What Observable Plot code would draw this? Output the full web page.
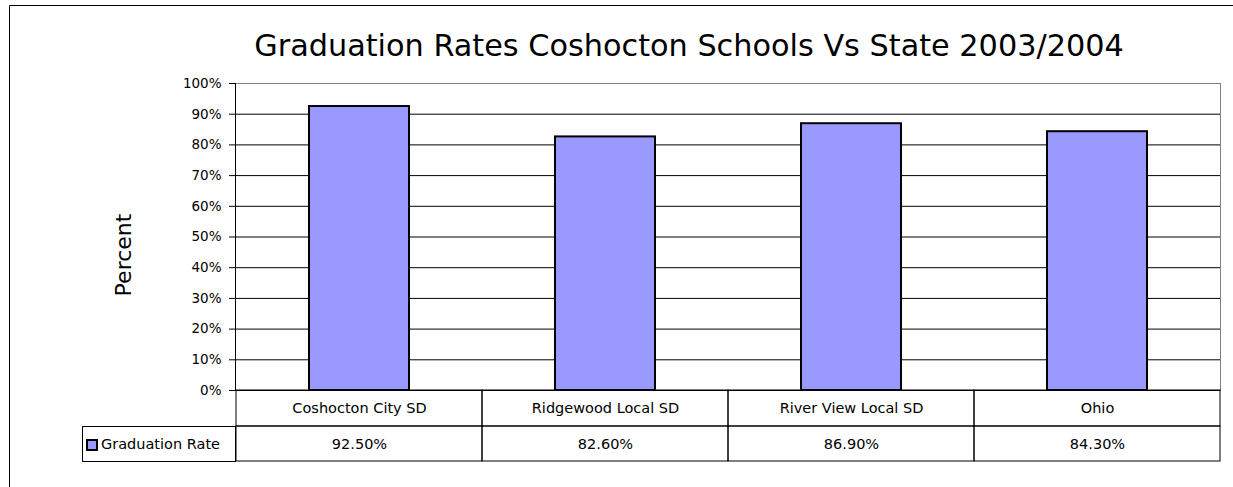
<!DOCTYPE html>
<html>
<head>
<meta charset="utf-8">
<script src="https://cdn.jsdelivr.net/npm/d3@7"></script>
<script src="https://cdn.jsdelivr.net/npm/@observablehq/plot@0.6"></script>
<style>
  html, body { margin: 0; padding: 0; background: #fff; }
  #chart svg { display: block; }
</style>
</head>
<body>
<div id="chart"></div>
<script>
const categories = ["Coshocton City SD", "Ridgewood Local SD", "River View Local SD", "Ohio"];
const rates = [0.925, 0.826, 0.869, 0.843];
const yTicks = [0, 0.1, 0.2, 0.3, 0.4, 0.5, 0.6, 0.7, 0.8, 0.9, 1.0];
const seriesName = "Graduation Rate";
const titleText = "Graduation Rates Coshocton Schools Vs State 2003/2004";
const yLabel = "Percent";

const rows = categories.map((name, i) => ({name, value: rates[i]}));
const fontFam = "'DejaVu Sans', Verdana, sans-serif";
const barFill = "#9999ff";
const tableFont = 14.5;

const W = 1233, H = 487;
const plot = Plot.plot({
  width: W,
  height: H,
  marginLeft: 235,
  marginRight: 13,
  marginTop: 83,
  marginBottom: 97,
  style: {fontFamily: fontFam, fontSize: "13px", color: "#000", background: "#fff"},
  x: {type: "band", domain: categories, paddingInner: 0, paddingOuter: 0, axis: null},
  y: {domain: [0, 1], ticks: yTicks, axis: null},
  marks: [
    Plot.frame({stroke: "#808080"}),
    Plot.gridY(yTicks.slice(1, -1), {stroke: "#000", strokeOpacity: 1}),
    Plot.barY(rows, {x: "name", y: "value", fill: barFill, stroke: "#000", strokeWidth: 2, insetLeft: 73, insetRight: 73}),
    Plot.frame({anchor: "left", stroke: "#000"}),
    Plot.ruleY([0], {stroke: "#000"}),
    Plot.axisY(yTicks, {tickFormat: d => Math.round(d * 100) + "%", tickSize: 6, tickPadding: 8, fontSize: 13.5, label: null, stroke: "#000"}),
    // data table: category row
    Plot.barY(rows, {x: "name", y1: 0, y2: 0, insetBottom: -36, fill: "none", stroke: "#000"}),
    // data table: value row
    Plot.barY(rows, {x: "name", y1: 0, y2: 0, insetTop: 36, insetBottom: -71, fill: "none", stroke: "#000"}),
    Plot.text(rows, {x: "name", y: 0, text: "name", dy: 18, fontSize: tableFont, fill: "#000"}),
    Plot.text(rows, {x: "name", y: 0, text: d => (d.value * 100).toFixed(2) + "%", dy: 54, fontSize: tableFont, fill: "#000"})
  ]
});
document.getElementById("chart").appendChild(plot);

const svg = d3.select(plot);
const x0 = plot.scale("x").range[0];
const yBase = plot.scale("y").apply(0);

// outer chart border (left and top)
svg.append("path")
  .attr("d", `M9.5,${H} V5.5 H${W}`)
  .attr("fill", "none").attr("stroke", "#000");

// title
svg.append("text")
  .attr("x", 689).attr("y", 56)
  .attr("text-anchor", "middle")
  .attr("font-family", fontFam).attr("font-size", 30.3).attr("fill", "#000")
  .text(titleText);

// y label
svg.append("text")
  .attr("transform", `translate(131,255) rotate(-90)`)
  .attr("text-anchor", "middle")
  .attr("font-family", fontFam).attr("font-size", 22).attr("fill", "#000")
  .text(yLabel);

// legend cell in data table
const lg = svg.append("g");
lg.append("rect")
  .attr("x", x0 - 153 + 0.5).attr("y", yBase + 36 + 0.5)
  .attr("width", 153).attr("height", 35)
  .attr("fill", "none").attr("stroke", "#000");
lg.append("rect")
  .attr("x", x0 - 148).attr("y", yBase + 50)
  .attr("width", 10).attr("height", 10)
  .attr("fill", barFill).attr("stroke", "#000").attr("stroke-width", 2);
lg.append("text")
  .attr("x", x0 - 134).attr("y", yBase + 59)
  .attr("text-anchor", "start")
  .attr("font-family", fontFam).attr("font-size", tableFont).attr("fill", "#000")
  .text(seriesName);
</script>
</body>
</html>
